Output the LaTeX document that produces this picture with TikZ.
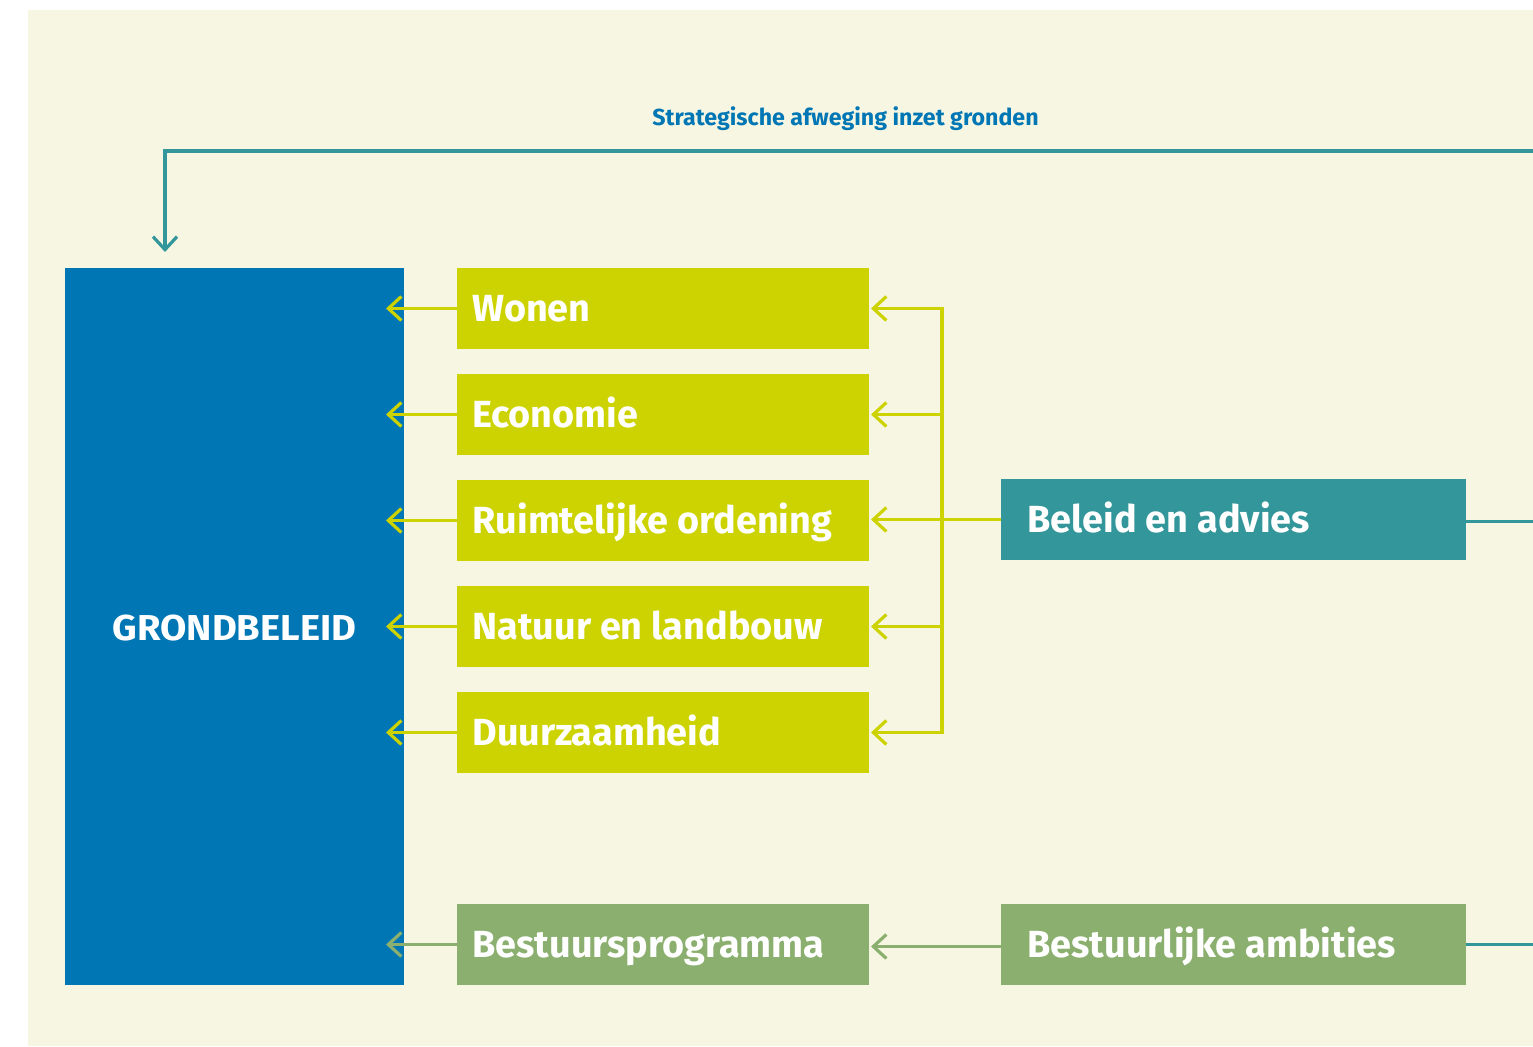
\documentclass[tikz,border=0pt]{standalone}
\usepackage{fontspec}
\setmainfont{Fira Sans}
\newfontfamily\widesans[FakeStretch=1.06]{Fira Sans}
\usetikzlibrary{arrows.meta}
\definecolor{cream}{HTML}{F7F6E2}
\definecolor{gblue}{HTML}{0077B4}
\definecolor{lime}{HTML}{CCD300}
\definecolor{teal}{HTML}{33969A}
\definecolor{sage}{HTML}{8BAF6E}
\begin{document}
\begin{tikzpicture}[x=0.5pt,y=-0.5pt,
  box/.style={anchor=north west, inner sep=0pt, outer sep=0pt},
  lbl/.style={text=white, font=\fontsize{18.9}{22}\selectfont\bfseries, anchor=base west, inner sep=0pt},
  topic/.style={box, fill=lime, minimum width=206pt, minimum height=40.5pt},
  src/.style={box, minimum width=232.5pt, minimum height=40.5pt},
  barb/.style={-{Straight Barb[length=6.5pt,width=12pt,line width=1.6pt]}, line width=1.6pt},
]
\useasboundingbox (0,0) rectangle (1533,1047);
\fill[white] (0,0) rectangle (1533,1047);
\fill[cream] (28,10) rectangle (1533,1046);

% left block
\node[box, fill=gblue, minimum width=169.5pt, minimum height=358.5pt] (gb) at (65,268) {};
\node[text=white, font=\widesans\fontsize{18}{20}\selectfont\bfseries, anchor=base, inner sep=0pt] (gbt) at (234.5,641) {GRONDBELEID};

% policy topics
\node[topic] (w) at (457,268) {};
\node[topic] (e) at (457,374) {};
\node[topic] (r) at (457,480) {};
\node[topic] (n) at (457,586) {};
\node[topic] (d) at (457,692) {};
\node[topic, fill=sage] (bp) at (457,904) {};

\foreach \b/\t in {w/Wonen, e/Economie, r/Ruimtelijke ordening, n/Natuur en landbouw, d/Duurzaamheid, bp/Bestuursprogramma}
  \node[lbl] (\b t) at ([xshift=7.5pt,yshift=-6.5pt]\b.west) {\t};

% sources
\node[src, fill=teal] (ba) at (1001,479) {};
\node[lbl] (bat) at ([xshift=13pt,yshift=-6.5pt]ba.west) {Beleid en advies};
\node[src, fill=sage] (ab) at (1001,904) {};
\node[lbl] (abt) at ([xshift=13pt,yshift=-6.5pt]ab.west) {Bestuurlijke ambities};

% arrows into the left block
\coordinate (gbr) at (386,0);
\foreach \b in {w,e,r,n,d}
  \draw[barb, draw=lime] (\b.west) -- (gbr |- \b.west);
\draw[barb, draw=sage] (bp.west) -- (gbr |- bp.west);

% distribution bracket from Beleid en advies
\coordinate (bx) at (942,0);
\coordinate (tip) at (871,0);
\draw[line width=1.6pt, draw=lime] ([yshift=0.8pt]bx |- w.west) -- ([yshift=-0.8pt]bx |- d.west);
\foreach \b in {w,e,n,d}
  \draw[barb, draw=lime] ([xshift=0.8pt]bx |- \b.west) -- (tip |- \b.west);
\draw[barb, draw=lime] (ba.west) -- (tip |- ba.west);
\draw[barb, draw=sage] ([yshift=-1pt]ab.west) -- ([yshift=-1pt]tip |- ab.west);

% feedback loop along the top
\coordinate (redge) at (1533,0);
\coordinate (tl) at (165,151);
\coordinate (arrtip) at (165,252);
\draw[line width=1.6pt, draw=teal] ([yshift=-1.2pt]ba.east) -- ([yshift=-1.2pt]redge |- ba.east);
\draw[line width=1.6pt, draw=teal] (ab.east) -- (redge |- ab.east);
\draw[barb, draw=teal] (redge |- tl) -- (tl) -- (arrtip);
\node[text=gblue, font=\fontsize{11.6}{14}\selectfont\bfseries, anchor=base, inner sep=0pt] (title) at (845.5,126) {Strategische afweging inzet gronden};
\end{tikzpicture}
\end{document}
